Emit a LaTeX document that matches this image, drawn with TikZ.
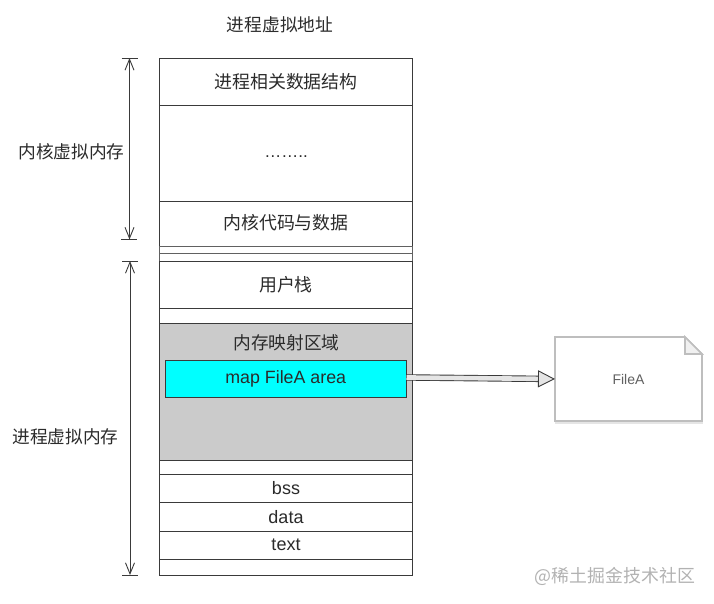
\documentclass[tikz,border=0pt]{standalone}
\usepackage{fontspec}
\setmainfont{Liberation Sans}
\newfontfamily\cjk{Noto Sans CJK SC}
\usetikzlibrary{arrows.meta}
\definecolor{ink}{HTML}{2B2B2B}
\definecolor{rule}{HTML}{3A3A3A}
\definecolor{mapgray}{HTML}{CBCBCB}
\definecolor{filegray}{HTML}{BEBEBE}
\definecolor{mapcyan}{HTML}{00FFFF}
\tikzset{
  cell/.style={draw=rule,line width=.9pt,fill=white,anchor=north west,minimum width=253pt,inner sep=0pt,outer sep=0pt,text=ink,font=\cjk\fontsize{17.9}{20}\selectfont},
  latincell/.style={cell,font=\fontsize{18}{20}\selectfont},
  zh/.style={text=ink,inner sep=0pt,font=\cjk\fontsize{17.7}{20}\selectfont},
  dim/.style={draw=rule,line width=.9pt,{Straight Barb[length=11pt,width=9pt]}-{Straight Barb[length=11pt,width=9pt]}},
  tick/.style={draw=rule,line width=.9pt},
}
\begin{document}
\begin{tikzpicture}[x=1pt,y=-1pt]
\useasboundingbox (0,0) rectangle (714,604);
\node[zh] (title) at (280,25) {进程虚拟地址};
% stack
\node[cell,minimum height=47pt] (c1) at (159.5,58) {\raisebox{1pt}{进程相关数据结构}};
\node[cell,minimum height=96.5pt,font=\fontsize{17}{20}\selectfont] (c2) at (159.5,105) {\raisebox{-8pt}{……..}};
\node[cell,minimum height=45pt] (c3) at (159.5,201.5) {\raisebox{4pt}{内核代码与数据}};
\node[cell,minimum height=7pt,draw=rule!80] (c4) at (159.5,246.5) {};
\node[cell,minimum height=7.5pt,draw=rule!80] (c5) at (159.5,253.5) {};
\node[cell,minimum height=47pt] (c6) at (159.5,261) {用户栈};
\node[cell,minimum height=15pt] (c7) at (159.5,308) {};
\node[cell,minimum height=137pt,fill=mapgray] (region) at (159.5,323) {};
\node[cell,minimum height=14.5pt] (c8) at (159.5,460) {};
\node[latincell,minimum height=28pt] (bss) at (159.5,474.5) {\raisebox{-1pt}{bss}};
\node[latincell,minimum height=28.5pt] (data) at (159.5,502.5) {data};
\node[latincell,minimum height=28pt] (text) at (159.5,531) {\raisebox{-1pt}{text}};
\node[cell,minimum height=16pt] (c9) at (159.5,559) {};
\node[zh] (regionlabel) at (286.5,342.5) {内存映射区域};
\node[cell,fill=mapcyan,minimum width=241.5pt,minimum height=37.5pt,font=\fontsize{17.8}{20}\selectfont] (map) at (165,360) {\raisebox{-1pt}{map FileA area}};
% file
\coordinate (filenw) at (555,337);
\coordinate (filese) at (702,421);
\coordinate (foldtop) at (685,337);
\coordinate (foldin) at (685,354);
\coordinate (foldright) at (702,354);
\fill[black!10] ([yshift=-3pt]filenw |- filese) rectangle ([xshift=1pt]filese);
\draw[filegray,line width=1.6pt,line join=miter,fill=white]
  (filenw) -- (foldtop) -- (foldright) -- (filese) -- (filenw |- filese) -- cycle;
\draw[filegray,line width=1.6pt,fill=black!6]
  (foldtop) -- (foldin) -- (foldright) -- cycle;
\node[inner sep=0pt,outer sep=0pt,minimum width=147pt,minimum height=84pt,anchor=north west,text=black!62,font=\fontsize{14}{16}\selectfont] (file) at (filenw) {FileA};
% hollow arrow
\coordinate (arrowstart) at ([yshift=1.3pt]map.east);
\draw[draw=rule,line width=.9pt,double=black!10,double distance=4.6pt,-{Triangle[length=17pt,width=17pt,fill=black!10,color=rule,line width=.9pt]}]
  (arrowstart) -- (file.west);
% dimension arrows
\coordinate (kt) at (129.5,58);
\coordinate (kb) at (129.5,239.5);
\coordinate (ut) at (130,261);
\coordinate (ub) at (130,575);
\draw[dim] (kt) -- (kb);
\draw[dim] (ut) -- (ub);
\draw[tick] ([xshift=-8pt]kt) -- ([xshift=8pt]kt);
\draw[tick] ([xshift=-8.5pt]kb) -- ([xshift=7.5pt]kb);
\draw[tick] ([xshift=-8pt]ut) -- ([xshift=8pt]ut);
\draw[tick] ([xshift=-8pt]ub) -- ([xshift=8pt]ub);
\node[zh] (kernel) at (71.5,152) {内核虚拟内存};
\node[zh] (user) at (65.5,437) {进程虚拟内存};
% watermark
\node[inner sep=0pt,text=black!30,font=\cjk\fontsize{17.9}{20}\selectfont] (mark) at (615,576) {@稀土掘金技术社区};
\end{tikzpicture}
\end{document}
